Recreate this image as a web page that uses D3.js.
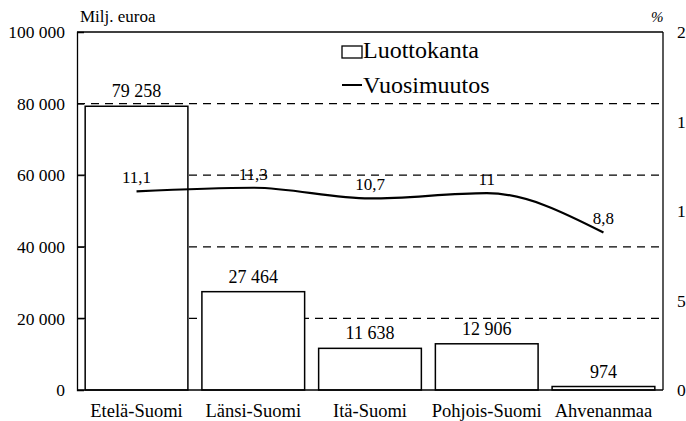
<!DOCTYPE html>
<html>
<head>
  <meta charset="utf-8">
  <title>Luottokanta ja vuosimuutos</title>
  <script src="https://d3js.org/d3.v7.min.js"></script>
  <style>
    body { margin: 0; background: #fff; }
    svg text { font-family: "Liberation Serif", "DejaVu Serif", serif; fill: #000; }
  </style>
</head>
<body>
<div id="kuva"></div>
<script>
// alueet ja arvot
var alueet = ["Etelä-Suomi", "Länsi-Suomi", "Itä-Suomi", "Pohjois-Suomi", "Ahvenanmaa"];
var luottokanta = [79258, 27464, 11638, 12906, 974];   // milj. euroa
var vuosimuutos = [11.1, 11.3, 10.7, 11, 8.8];           // %
var vasenTicks = [0, 20000, 40000, 60000, 80000, 100000];
var oikeaTicks = [0, 5, 10, 15, 20];

var W = 686, H = 421;
var pL = 77, pR = 663, pT = 32, pB = 390;
var serif = "'Liberation Serif', 'DejaVu Serif', serif";

var fi = d3.formatLocale({ decimal: ",", thousands: " ", grouping: [3], currency: ["", " €"] });
var luku = fi.format(",d");
var pros = function(v) { return String(v).replace(".", ","); };

var svg = d3.select("#kuva").append("svg")
  .attr("width", W)
  .attr("height", H)
  .attr("font-family", serif);

var x = d3.scaleBand()
  .domain(alueet)
  .range([pL, pR])
  .paddingInner(0.12)
  .paddingOuter(0.07);

var y = d3.scaleLinear().domain([0, 100000]).range([pB, pT]);
var y2 = d3.scaleLinear().domain([0, 20]).range([pB, pT]);

// katkoviivat
svg.selectAll("line.grid").data(vasenTicks.slice(1, -1)).enter().append("line")
  .attr("class", "grid")
  .attr("x1", pL).attr("x2", pR)
  .attr("y1", d => y(d)).attr("y2", d => y(d))
  .attr("stroke", "#000")
  .attr("stroke-width", 1.2)
  .attr("stroke-dasharray", "8,6");

// kehys ylä ja oikea
svg.append("line")
  .attr("x1", pL).attr("x2", pR).attr("y1", pT).attr("y2", pT)
  .attr("stroke", "#000").attr("stroke-width", 1.3);
svg.append("line")
  .attr("x1", pR).attr("x2", pR).attr("y1", pT).attr("y2", pB)
  .attr("stroke", "#000").attr("stroke-width", 1.3);

// pylväät
var data = alueet.map(function(a, i) { return { alue: a, v: luottokanta[i], p: vuosimuutos[i] }; });

svg.selectAll("rect.bar").data(data).enter().append("rect")
  .attr("class", "bar")
  .attr("x", d => x(d.alue))
  .attr("y", d => y(d.v))
  .attr("width", x.bandwidth())
  .attr("height", d => y(0) - y(d.v))
  .attr("fill", "#fff")
  .attr("stroke", "#000")
  .attr("stroke-width", 1.5);

svg.selectAll("text.arvo").data(data).enter().append("text")
  .attr("class", "arvo")
  .attr("x", d => x(d.alue) + x.bandwidth() / 2)
  .attr("y", d => y(d.v) - 9)
  .attr("text-anchor", "middle")
  .style("font-size", "18px")
  .text(d => luku(d.v));

// vasen akseli
var ax = svg.append("g")
  .attr("transform", "translate(" + pL + ",0)")
  .call(d3.axisLeft(y).tickValues(vasenTicks).tickSize(-7).tickPadding(12).tickFormat(luku));
ax.attr("font-family", serif);
ax.select(".domain").attr("stroke-width", 1.3);
ax.selectAll("text").style("font-size", "17.5px");

// oikea akseli (luvut leikkautuvat reunaan kuten alkuperäisessä)
var ay = svg.append("g")
  .attr("transform", "translate(" + pR + ",0)")
  .call(d3.axisRight(y2).tickValues(oikeaTicks).tickSize(0).tickPadding(14));
ay.attr("font-family", serif);
ay.select(".domain").remove();
ay.selectAll("text").style("font-size", "17.5px");

// x-akseli
svg.append("line")
  .attr("x1", pL).attr("x2", pR).attr("y1", pB).attr("y2", pB)
  .attr("stroke", "#000").attr("stroke-width", 1.5);

svg.selectAll("text.alue").data(alueet).enter().append("text")
  .attr("class", "alue")
  .attr("x", d => x(d) + x.bandwidth() / 2)
  .attr("y", 417)
  .attr("text-anchor", "middle")
  .style("font-size", "18.5px")
  .text(d => d);

// vuosimuutos viiva
var viiva = d3.line()
  .x(d => x(d.alue) + x.bandwidth() / 2)
  .y(d => y2(d.p))
  .curve(d3.curveMonotoneX);

svg.append("path")
  .datum(data)
  .attr("d", viiva)
  .attr("fill", "none")
  .attr("stroke", "#000")
  .attr("stroke-width", 2.2);

svg.selectAll("text.pros").data(data).enter().append("text")
  .attr("class", "pros")
  .attr("x", d => x(d.alue) + x.bandwidth() / 2)
  .attr("y", d => y2(d.p) - 8)
  .attr("text-anchor", "middle")
  .style("font-size", "17px")
  .text(d => pros(d.p));

// otsikot
svg.append("text").attr("x", 80).attr("y", 22).style("font-size", "17px").text("Milj. euroa");
svg.append("text").attr("x", 651).attr("y", 22).style("font-size", "15px").style("font-style", "italic").text("%");

// selite
svg.append("rect").attr("x", 342).attr("y", 46).attr("width", 20).attr("height", 12)
  .attr("fill", "#fff").attr("stroke", "#000").attr("stroke-width", 1.3);
svg.append("text").attr("x", 363).attr("y", 58).style("font-size", "24px").text("Luottokanta");
svg.append("line").attr("x1", 342).attr("x2", 362).attr("y1", 85).attr("y2", 85)
  .attr("stroke", "#000").attr("stroke-width", 2);
svg.append("text").attr("x", 363).attr("y", 93).style("font-size", "24px").text("Vuosimuutos");
</script>
</body>
</html>
